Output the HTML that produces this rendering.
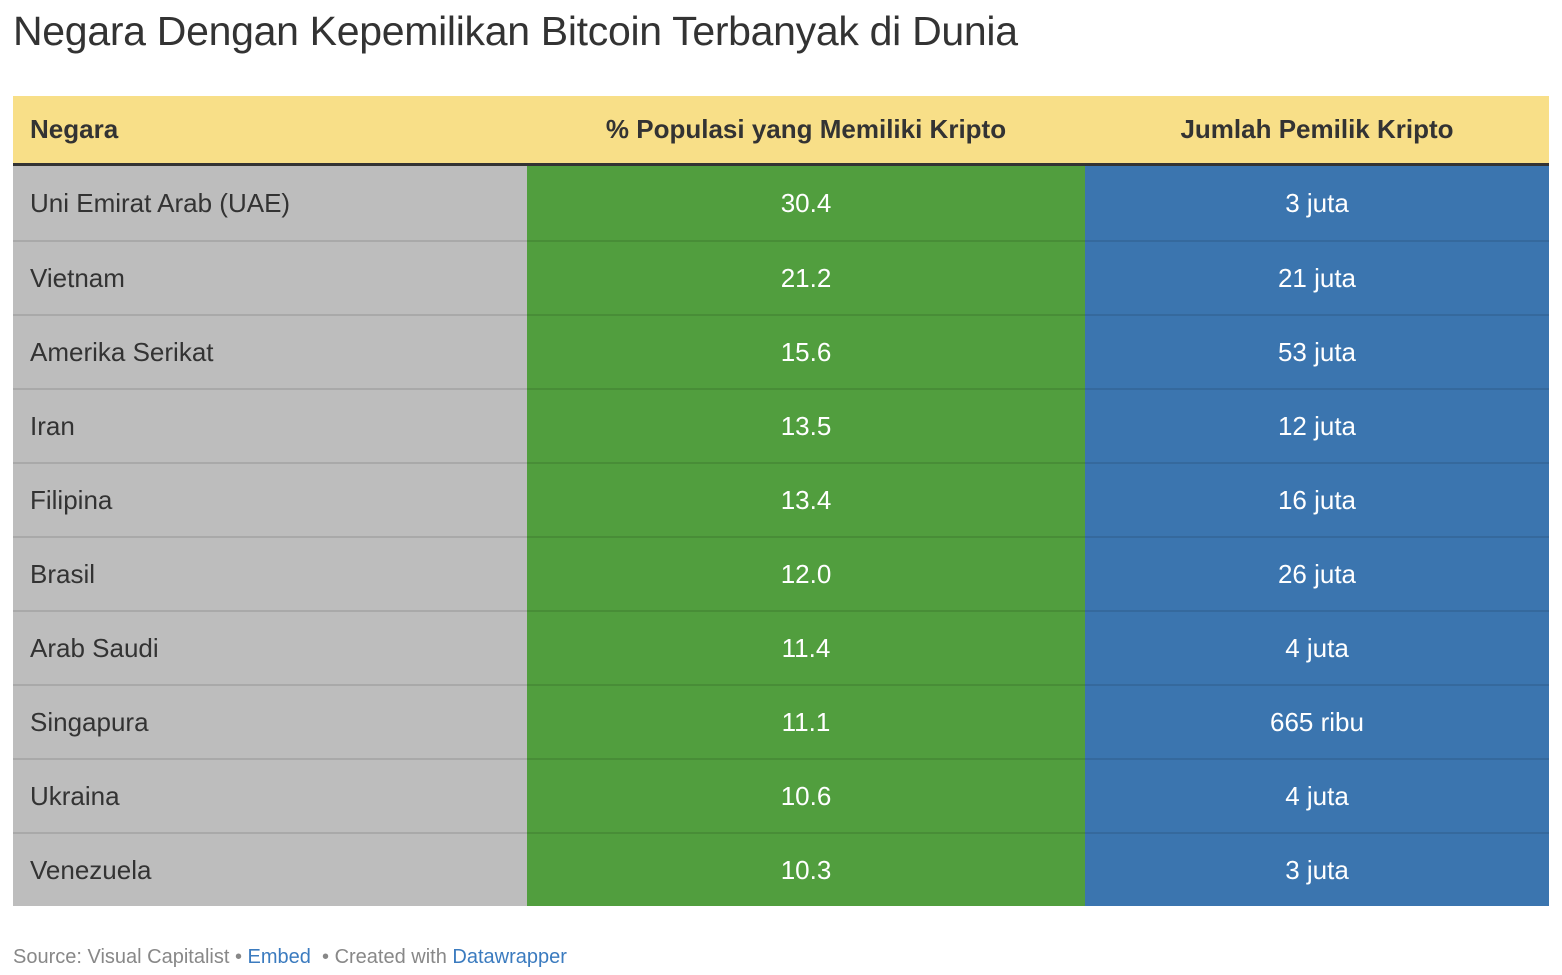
<!DOCTYPE html>
<html><head><meta charset="utf-8"><style>
body{margin:0;width:1562px;height:975px;background:#fff;font-family:"Liberation Sans",Arial,sans-serif;color:#333;overflow:hidden;position:relative}
h1{position:absolute;left:13px;top:8px;margin:0;font-weight:normal;font-size:41px;color:#333;letter-spacing:-0.3px}
table{position:absolute;left:13px;top:96px;width:1536px;border-collapse:collapse}
th{background:#f8df88;height:67px;font-size:26px;font-weight:bold;color:#333;border-bottom:3px solid #333;padding:0}
td{height:72px;font-size:26px;padding:0;border-top:2px solid rgba(0,0,0,0.1)}
tr:first-child td{border-top:none}
.c1{text-align:left;padding-left:17px;width:497px;background:#bdbdbd;color:#333}
.c2{text-align:center;width:558px;background:#519e3e;color:#fff}
.c3{text-align:center;background:#3b75af;color:#fff}
tbody tr:first-child td{height:74px}
.foot{position:absolute;left:13px;top:946px;font-size:20px;color:#888}
.foot a{color:#3b7bbf;text-decoration:none}
</style></head><body>
<h1>Negara Dengan Kepemilikan Bitcoin Terbanyak di Dunia</h1>
<table>
<thead><tr>
<th class="c1" style="background:#f8df88">Negara</th>
<th class="c2" style="background:#f8df88;color:#333">% Populasi yang Memiliki Kripto</th>
<th class="c3" style="background:#f8df88;color:#333">Jumlah Pemilik Kripto</th>
</tr></thead>
<tbody id="tb"></tbody>
</table>
<div class="foot">Source: Visual Capitalist • <a>Embed</a> &nbsp;• Created with <a>Datawrapper</a></div>
<script>
const countries=["Uni Emirat Arab (UAE)","Vietnam","Amerika Serikat","Iran","Filipina","Brasil","Arab Saudi","Singapura","Ukraina","Venezuela"];
const percents=["30.4","21.2","15.6","13.5","13.4","12.0","11.4","11.1","10.6","10.3"];
const owners=["3 juta","21 juta","53 juta","12 juta","16 juta","26 juta","4 juta","665 ribu","4 juta","3 juta"];
const tb=document.getElementById('tb');
countries.forEach((c,i)=>{
  const tr=document.createElement('tr');
  
  
  [[c,'c1','country-cell'],[percents[i],'c2','percent-cell'],[owners[i],'c3','owners-cell']].forEach(([t,cls,n])=>{
    const td=document.createElement('td');
    td.className=cls;td.textContent=t;
    
    
    tr.appendChild(td);
  });
  tb.appendChild(tr);
});
</script>
</body></html>
